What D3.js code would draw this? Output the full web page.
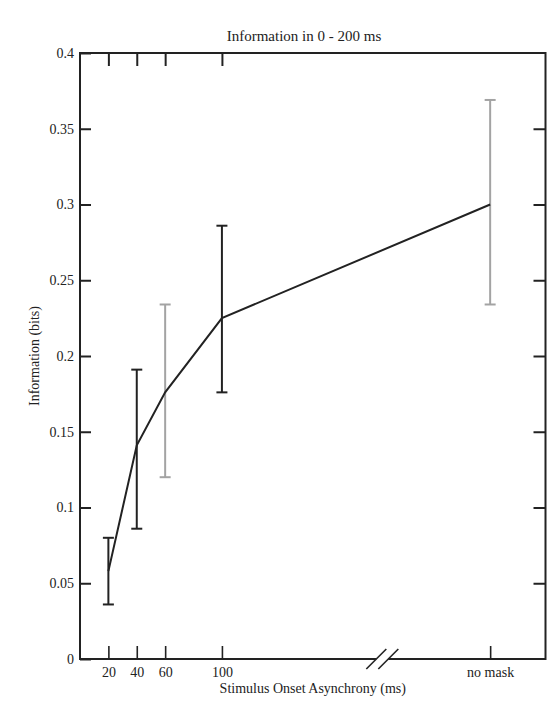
<!DOCTYPE html>
<html>
<head>
<meta charset="utf-8">
<script src="https://cdn.jsdelivr.net/npm/d3@7"></script>
<style>
  body { margin: 0; background: #fff; }
  svg text { font-family: "Liberation Serif", "DejaVu Serif", serif; fill: #222; }
</style>
</head>
<body>
<div id="chart"></div>
<script>
// SOA conditions (ms); "no mask" sits past the axis break
var soa = [20, 40, 60, 100, 289];
var soaLabels = ["20", "40", "60", "100", "no mask"];
var info = [0.058, 0.141, 0.176, 0.225, 0.300];
var errLow = [0.036, 0.086, 0.120, 0.176, 0.234];
var errHigh = [0.080, 0.191, 0.234, 0.286, 0.369];
var errGrey = [false, false, true, false, true];
var yTicks = [0, 0.05, 0.1, 0.15, 0.2, 0.25, 0.3, 0.35, 0.4];
var breakAt = 213;

var width = 559, height = 703;
var ink = "#222", grey = "#a3a3a3";
var serif = "Liberation Serif, DejaVu Serif, serif";

var svg = d3.select("#chart").append("svg")
  .attr("width", width)
  .attr("height", height)
  .attr("font-family", serif);

var x = d3.scaleLinear().domain([0, 328]).range([80, 545.5]);
var y = d3.scaleLinear().domain([0, 0.4]).range([659, 53]);

var x0 = x.range()[0], x1 = x.range()[1];
var y0 = y.range()[0], y1 = y.range()[1];

// frame: left, top, right, and bottom with a gap at the break
var frame = svg.append("g")
  .attr("stroke", ink)
  .attr("stroke-width", 2)
  .attr("fill", "none");
frame.append("path")
  .attr("d", "M" + (x(breakAt) - 6) + "," + y0 + "H" + x0 + "V" + y1 + "H" + x1 + "V" + y0 + "H" + (x(breakAt) + 6));

// break marks
[-6, 6].forEach(function (off) {
  var cx = x(breakAt) + off;
  frame.append("line")
    .attr("x1", cx - 10).attr("y1", y0 + 10)
    .attr("x2", cx + 10).attr("y2", y0 - 10)
    .attr("stroke-width", 1.6);
});

// left + right y ticks (inward), labels on left
var yAxisL = d3.axisLeft(y).tickValues(yTicks).tickSize(-11)
  .tickFormat(function (d) { return d === 0 ? "0" : d3.format("~g")(d); });
var gL = svg.append("g").attr("transform", "translate(" + x0 + ",0)").call(yAxisL)
  .attr("font-family", serif);
gL.select(".domain").remove();
gL.selectAll(".tick line").attr("stroke", ink).attr("stroke-width", 2);
gL.selectAll(".tick text").attr("font-size", 14).attr("fill", ink)
  .attr("x", -6);

var yAxisR = d3.axisRight(y).tickValues(yTicks.slice(1, -1)).tickSize(-12).tickFormat("");
var gR = svg.append("g").attr("transform", "translate(" + x1 + ",0)").call(yAxisR);
gR.select(".domain").remove();
gR.selectAll(".tick line").attr("stroke", ink).attr("stroke-width", 2);

// bottom x ticks (inward) with labels
var xAxisB = d3.axisBottom(x).tickValues(soa).tickSize(-13)
  .tickFormat(function (d, i) { return soaLabels[i]; });
var gB = svg.append("g").attr("transform", "translate(0," + y0 + ")").call(xAxisB)
  .attr("font-family", serif);
gB.select(".domain").remove();
gB.selectAll(".tick line").attr("stroke", ink).attr("stroke-width", 1.6);
gB.selectAll(".tick text").attr("font-size", 14).attr("fill", ink).attr("y", 8);

// top x ticks (inward), no label, no tick for "no mask"
var xAxisT = d3.axisTop(x).tickValues(soa.slice(0, 4)).tickSize(-13).tickFormat("");
var gT = svg.append("g").attr("transform", "translate(0," + y1 + ")").call(xAxisT);
gT.select(".domain").remove();
gT.selectAll(".tick line").attr("stroke", ink).attr("stroke-width", 2);

// error bars
var bars = svg.append("g");
soa.forEach(function (s, i) {
  var col = errGrey[i] ? grey : ink;
  var g = bars.append("g").attr("stroke", col).attr("stroke-width", 2);
  g.append("line").attr("x1", x(s)).attr("x2", x(s)).attr("y1", y(errLow[i])).attr("y2", y(errHigh[i]));
  g.append("line").attr("x1", x(s) - 5.5).attr("x2", x(s) + 5.5).attr("y1", y(errLow[i])).attr("y2", y(errLow[i]));
  g.append("line").attr("x1", x(s) - 5.5).attr("x2", x(s) + 5.5).attr("y1", y(errHigh[i])).attr("y2", y(errHigh[i]));
});

// mean line
var line = d3.line()
  .x(function (d, i) { return x(soa[i]); })
  .y(function (d) { return y(d); });
svg.append("path")
  .datum(info)
  .attr("d", line)
  .attr("fill", "none")
  .attr("stroke", ink)
  .attr("stroke-width", 2);

// titles
svg.append("text")
  .attr("x", 304).attr("y", 41)
  .attr("text-anchor", "middle").attr("font-size", 15)
  .text("Information in 0 - 200 ms");

svg.append("text")
  .attr("x", (x0 + x1) / 2).attr("y", 693)
  .attr("text-anchor", "middle").attr("font-size", 14)
  .text("Stimulus Onset Asynchrony (ms)");

svg.append("text")
  .attr("transform", "translate(39," + ((y0 + y1) / 2) + ") rotate(-90)")
  .attr("text-anchor", "middle").attr("font-size", 14)
  .text("Information (bits)");
</script>
</body>
</html>
